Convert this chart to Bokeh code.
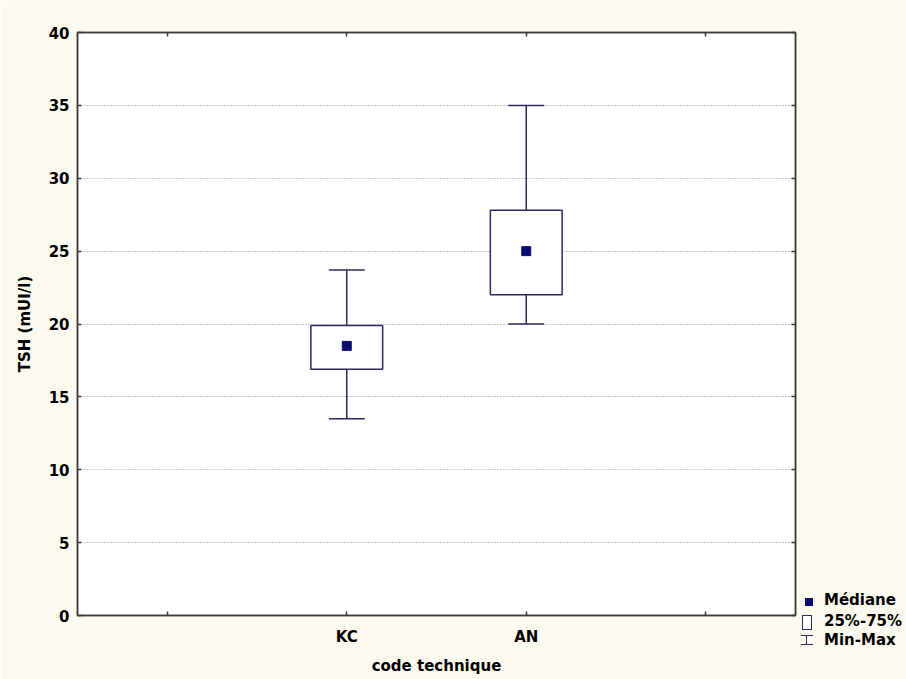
from bokeh.plotting import figure
from bokeh.layouts import row
from bokeh.models import Range1d, FixedTicker, LinearAxis, ColumnDataSource, Div
from bokeh.embed import file_html
from bokeh.resources import INLINE

# ---- data ----
tick_labels = ["", "KC", "AN", ""]
categories = ["KC", "AN"]
mins = [13.5, 20.0]
q1 = [16.9, 22.0]
medians = [18.5, 25.0]
q3 = [19.9, 27.8]
maxs = [23.7, 35.0]
y_ticks = [0, 5, 10, 15, 20, 25, 30, 35, 40]
legend_labels = ["Médiane", "25%-75%", "Min-Max"]

# ---- styles ----
BG = "#FCFAEE"
NAVY = "#0B0B6E"
LINE = "#2B2B60"
AXIS = "#3C3C3C"
FONT = "DejaVu Sans"
FS = "15px"

pos = [tick_labels.index(c) + 1 for c in categories]
tick_pos = list(range(1, len(tick_labels) + 1))
box_half = 0.2
cap_half = 0.1

src = ColumnDataSource(dict(
    x=pos, cat=categories, mn=mins, q1=q1, med=medians, q3=q3, mx=maxs,
    bl=[p - box_half for p in pos], br=[p + box_half for p in pos],
    cl=[p - cap_half for p in pos], cr=[p + cap_half for p in pos],
))

p = figure(width=800, height=679, output_backend="svg", toolbar_location=None,
           x_range=Range1d(0.5, len(tick_labels) + 0.5), y_range=Range1d(0, 40),
           min_border_left=77, min_border_right=5, min_border_top=32,
           min_border_bottom=64)
p.background_fill_color = "white"
p.border_fill_color = BG
p.outline_line_color = AXIS
p.outline_line_width = 1.5

bottom = p.below[0]
left = p.left[0]
bottom.ticker = FixedTicker(ticks=tick_pos)
bottom.major_label_overrides = {i + 1: t for i, t in enumerate(tick_labels)}
left.ticker = FixedTicker(ticks=y_ticks)
bottom.axis_label = "code technique"
left.axis_label = "TSH (mUI/l)"

top = LinearAxis(ticker=FixedTicker(ticks=tick_pos),
                 major_label_overrides={t: "" for t in tick_pos})
right = LinearAxis(ticker=FixedTicker(ticks=y_ticks),
                   major_label_overrides={t: "" for t in y_ticks})
p.add_layout(top, "above")
p.add_layout(right, "right")
for ax in (top, right):
    ax.major_label_standoff = 0
    ax.major_label_text_font_size = "1px"

for ax in (bottom, left, top, right):
    ax.axis_line_color = AXIS
    ax.axis_line_width = 1.5
    ax.major_tick_in = 4
    ax.major_tick_out = 0
    ax.major_tick_line_color = AXIS
    ax.major_tick_line_width = 1.5
    ax.minor_tick_line_color = None
for ax in (bottom, left):
    ax.major_label_text_font = FONT
    ax.major_label_text_font_style = "bold"
    ax.major_label_text_font_size = FS
    ax.major_label_text_color = "black"
    ax.axis_label_text_font = FONT
    ax.axis_label_text_font_style = "bold"
    ax.axis_label_text_font_size = FS
    ax.axis_label_text_color = "black"
bottom.major_label_standoff = 12
bottom.axis_label_standoff = 8
left.major_label_standoff = 8
left.axis_label_standoff = 12

# grid
p.xgrid.visible = False
p.ygrid.ticker = FixedTicker(ticks=y_ticks[1:-1])
p.ygrid.grid_line_color = "#8C8C8C"
p.ygrid.grid_line_dash = "1 2"
p.ygrid.grid_line_width = 1

# whiskers
p.segment(x0="x", y0="q3", x1="x", y1="mx", source=src, line_color=LINE, line_width=1.5)
p.segment(x0="x", y0="q1", x1="x", y1="mn", source=src, line_color=LINE, line_width=1.5)
p.segment(x0="cl", y0="mx", x1="cr", y1="mx", source=src, line_color=LINE, line_width=1.5)
p.segment(x0="cl", y0="mn", x1="cr", y1="mn", source=src, line_color=LINE, line_width=1.5)
# boxes
p.quad(left="bl", right="br", bottom="q1", top="q3", source=src,
       fill_color="white", line_color=LINE, line_width=1.5)
# medians
p.scatter(x="x", y="med", source=src, marker="square", size=9,
          fill_color=NAVY, line_color=NAVY)

# ---- legend, to the right of the plot ----
sym_med = f'<div style="position:absolute;left:5px;top:598px;width:8px;height:8px;background:{NAVY};"></div>'
sym_box = (f'<div style="position:absolute;left:2px;top:615px;width:10px;height:15px;'
           f'background:white;border:1.5px solid {LINE};"></div>')
sym_mm = (f'<div style="position:absolute;left:1px;top:635px;width:12px;height:10px;'
          f'border-top:1.5px solid {LINE};border-bottom:1.5px solid {LINE};">'
          f'<div style="position:absolute;left:5px;top:0;height:100%;border-left:1.5px solid {LINE};"></div></div>')
label_tops = [592, 613, 632]
labels_html = "".join(
    f'<div style="position:absolute;left:24px;top:{t}px;line-height:17px;white-space:nowrap;">{lab}</div>'
    for lab, t in zip(legend_labels, label_tops))
legend_html = (f'<div style="position:relative;width:106px;height:679px;background:{BG};'
               f'font-family:\'{FONT}\';font-weight:bold;font-size:15px;color:black;">'
               + sym_med + sym_box + sym_mm + labels_html + '</div>')
legend_div = Div(text=legend_html, width=106, height=679,
                 styles={"background-color": BG, "margin": "0", "padding": "0"})

layout = row(p, legend_div, spacing=0)
open("out.html", "w").write(file_html(layout, INLINE))
